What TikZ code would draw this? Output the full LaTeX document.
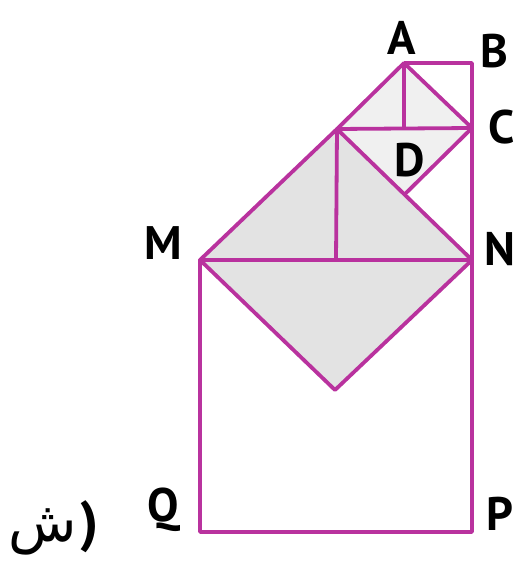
\documentclass[tikz,border=0pt]{standalone}
\usepackage{fontspec}
\setmainfont{PT Sans}
\newfontfamily\arabicfont[Script=Arabic]{DejaVu Sans}
\definecolor{edge}{RGB}{185,50,158}
\tikzset{lbl/.style={font=\fontsize{47}{47}\selectfont\bfseries}}
\begin{document}
\begin{tikzpicture}[x=1pt,y=-1pt,line width=3.8pt,line join=round]
\useasboundingbox (0,0) rectangle (527,561);
\coordinate (M) at (200,260); \coordinate (N) at (472,260);
\coordinate (P) at (472,532); \coordinate (Q) at (200,532);
\coordinate (T) at (337,129); \coordinate (V) at (335,390);
\coordinate (K) at (336,260); \coordinate (O) at (404,128);
\coordinate (A) at (404,63); \coordinate (B) at (472,63);
\coordinate (C) at (472,128); \coordinate (D) at (404,195);
\fill[gray!22] (M)--(T)--(N)--(V)--cycle;
\fill[gray!12] (T)--(A)--(C)--(D)--cycle;
\draw[edge] (M)--(T)--(N)--(V)--cycle;
\draw[edge] (T)--(A)--(C)--cycle;
\draw[edge] (A)--(B)--(P)--(Q)--(M)--(N);
\draw[edge] (T)--(K) (A)--(O) (C)--(D);
\node[lbl] at (402,38) {A};
\node[lbl] at (494,51) {B};
\node[lbl] at (502,127) {C};
\node[lbl] at (410,160) {D};
\node[lbl] at (163,243) {M};
\node[lbl] at (500,249) {N};
\node[lbl] at (500,514) {P};
\node[lbl] at (163,510) {Q};
\node[font=\fontsize{56}{56}\selectfont,inner sep=0pt] at (43,532) {\arabicfont ش};
\node[font=\fontsize{56}{56}\selectfont\bfseries,inner sep=0pt] at (90,527) {)};
\end{tikzpicture}
\end{document}
